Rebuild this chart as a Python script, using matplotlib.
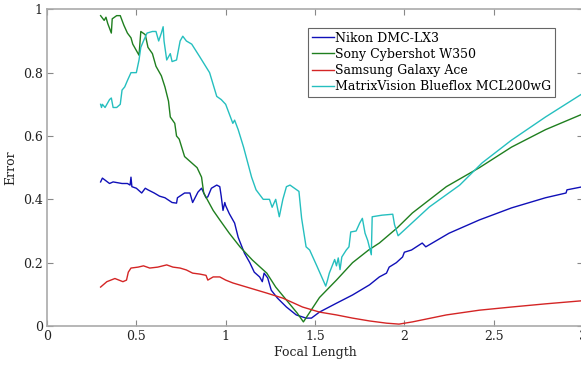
import matplotlib
matplotlib.use("Agg")
import matplotlib.pyplot as plt

# Nikon DMC-LX3
nikon_x = [0.30, 0.31, 0.35, 0.37, 0.42, 0.45, 0.465, 0.47, 0.475, 0.50, 0.53, 0.55, 0.565, 0.60,
           0.63, 0.66, 0.70, 0.725, 0.73, 0.77, 0.80, 0.815, 0.845, 0.865, 0.89, 0.90, 0.92, 0.95,
           0.967, 0.975, 0.985, 0.995, 1.00, 1.02, 1.05, 1.07, 1.105, 1.135, 1.16, 1.19, 1.205,
           1.215, 1.235, 1.255, 1.29, 1.34, 1.395, 1.45, 1.48, 1.525, 1.62, 1.71, 1.805, 1.86,
           1.90, 1.915, 1.955, 1.99, 2.00, 2.04, 2.10, 2.12, 2.25, 2.42, 2.60, 2.79, 2.905, 2.91, 3.0]
nikon_y = [0.455, 0.467, 0.45, 0.455, 0.45, 0.45, 0.445, 0.47, 0.44, 0.435, 0.42, 0.435, 0.43, 0.42,
           0.41, 0.405, 0.39, 0.388, 0.405, 0.42, 0.42, 0.39, 0.423, 0.435, 0.405, 0.408, 0.435, 0.445,
           0.44, 0.41, 0.365, 0.39, 0.38, 0.355, 0.325, 0.28, 0.23, 0.20, 0.17, 0.155, 0.14,
           0.167, 0.152, 0.113, 0.088, 0.06, 0.035, 0.025, 0.025, 0.044, 0.072, 0.098, 0.13, 0.155,
           0.167, 0.186, 0.20, 0.218, 0.233, 0.24, 0.262, 0.25, 0.293, 0.335, 0.373, 0.405, 0.42, 0.43, 0.44]

# Sony Cybershot W350
sony_x = [0.30, 0.32, 0.33, 0.34, 0.36, 0.365, 0.39, 0.41, 0.43, 0.45, 0.47, 0.48, 0.50, 0.515,
          0.525, 0.55, 0.565, 0.59, 0.61, 0.64, 0.66, 0.68, 0.69, 0.715, 0.725, 0.74, 0.77, 0.81,
          0.84, 0.865, 0.877, 0.93, 0.967, 1.02, 1.08, 1.15, 1.23, 1.28, 1.34, 1.40, 1.435,
          1.525, 1.62, 1.71, 1.80, 1.86, 1.96, 2.045, 2.235, 2.42, 2.60, 2.79, 3.0]
sony_y = [0.98, 0.965, 0.975, 0.955, 0.925, 0.97, 0.98, 0.98, 0.95, 0.925, 0.91, 0.89, 0.87, 0.855,
          0.93, 0.92, 0.88, 0.86, 0.82, 0.79, 0.755, 0.71, 0.66, 0.64, 0.60, 0.59, 0.535, 0.515,
          0.50, 0.47, 0.42, 0.365, 0.335, 0.293, 0.25, 0.208, 0.167, 0.123, 0.082, 0.041, 0.013,
          0.09, 0.145, 0.20, 0.24, 0.262, 0.31, 0.357, 0.44, 0.50, 0.565, 0.62, 0.67]

# Samsung Galaxy Ace
samsung_x = [0.30, 0.335, 0.38, 0.425, 0.445, 0.455, 0.47, 0.51, 0.54, 0.575, 0.62, 0.67, 0.705,
             0.745, 0.78, 0.815, 0.855, 0.89, 0.90, 0.93, 0.967, 1.0, 1.04, 1.135, 1.23, 1.32,
             1.43, 1.525, 1.62, 1.71, 1.805, 1.90, 1.97, 2.045, 2.235, 2.42, 2.60, 2.79, 3.0]
samsung_y = [0.123, 0.14, 0.15, 0.14, 0.145, 0.17, 0.183, 0.186, 0.19, 0.183, 0.186, 0.193, 0.186,
             0.183, 0.177, 0.167, 0.164, 0.16, 0.145, 0.155, 0.155, 0.145, 0.136, 0.12, 0.104, 0.088,
             0.06, 0.044, 0.035, 0.025, 0.016, 0.009, 0.006, 0.013, 0.035, 0.05, 0.06, 0.07, 0.08]

# MatrixVision Blueflox MCL200wG
matrix_x = [0.30, 0.305, 0.31, 0.325, 0.35, 0.36, 0.37, 0.39, 0.41, 0.42, 0.435, 0.45, 0.47, 0.49,
            0.50, 0.515, 0.525, 0.54, 0.56, 0.59, 0.61, 0.625, 0.64, 0.65, 0.655, 0.67, 0.69,
            0.70, 0.725, 0.745, 0.76, 0.78, 0.81, 0.855, 0.91, 0.95, 0.975, 1.0, 1.04, 1.05,
            1.07, 1.10, 1.145, 1.17, 1.21, 1.245, 1.26, 1.28, 1.30, 1.32, 1.34, 1.36, 1.41,
            1.425, 1.45, 1.47, 1.51, 1.56, 1.57, 1.58, 1.61, 1.62, 1.63, 1.64, 1.65, 1.675,
            1.69, 1.70, 1.73, 1.75, 1.765, 1.78, 1.795, 1.815, 1.82, 1.875, 1.935, 1.945, 1.965,
            2.14, 2.31, 2.435, 2.60, 2.79, 3.0]
matrix_y = [0.70, 0.69, 0.70, 0.69, 0.715, 0.72, 0.69, 0.69, 0.70, 0.745, 0.755, 0.775, 0.80, 0.80,
            0.80, 0.84, 0.88, 0.90, 0.925, 0.93, 0.93, 0.90, 0.925, 0.945, 0.90, 0.84, 0.86,
            0.835, 0.84, 0.90, 0.915, 0.90, 0.89, 0.85, 0.80, 0.725, 0.715, 0.70, 0.64, 0.65,
            0.62, 0.565, 0.47, 0.43, 0.40, 0.40, 0.375, 0.40, 0.345, 0.40, 0.44, 0.445, 0.425,
            0.34, 0.25, 0.24, 0.19, 0.126, 0.145, 0.167, 0.21, 0.19, 0.215, 0.178, 0.218, 0.24,
            0.25, 0.297, 0.30, 0.325, 0.34, 0.293, 0.27, 0.225, 0.345, 0.35, 0.353, 0.32, 0.285,
            0.376, 0.445, 0.515, 0.587, 0.66, 0.735]

labels = ["Nikon DMC-LX3", "Sony Cybershot W350", "Samsung Galaxy Ace",
          "MatrixVision Blueflox MCL200wG"]
colors = ["#1010b8", "#1f7f1f", "#d42525", "#25bfbf"]

plt.rcParams['font.family'] = ['DejaVu Serif']
plt.rcParams['font.size'] = 9

fig = plt.figure(figsize=(5.81, 3.65), dpi=100)
ax = fig.add_axes([0.0809, 0.1068, 0.9226, 0.8677])

series = [(nikon_x, nikon_y), (sony_x, sony_y), (samsung_x, samsung_y), (matrix_x, matrix_y)]
for (xs, ys), lab, col in zip(series, labels, colors):
    ax.plot(xs, ys, color=col, lw=1.0, label=lab)

ax.set_xlim(0, 3)
ax.set_ylim(0, 1)
ax.set_xticks([0, 0.5, 1, 1.5, 2, 2.5, 3])
ax.set_xticklabels(["0", "0.5", "1", "1.5", "2", "2.5", "3"])
ax.set_yticks([0, 0.2, 0.4, 0.6, 0.8, 1])
ax.set_yticklabels(["0", "0.2", "0.4", "0.6", "0.8", "1"])
ax.tick_params(direction='in', top=True, right=True, length=4, color='#888888',
               labelcolor='#222222', pad=3)
for s in ax.spines.values():
    s.set_color('#aaaaaa')
    s.set_linewidth(1.2)

ax.set_xlabel("Focal Length", color='#222222', labelpad=2)
ax.set_ylabel("Error", color='#222222', labelpad=4)

leg = ax.legend(loc='upper right', bbox_to_anchor=(0.948, 0.941), borderaxespad=0,
                fancybox=False, framealpha=1, edgecolor='#666666', handlelength=1.8,
                handletextpad=0.1, labelspacing=0.25, borderpad=0.3)
leg.get_frame().set_linewidth(0.8)

fig.savefig("out.png", dpi=100)
